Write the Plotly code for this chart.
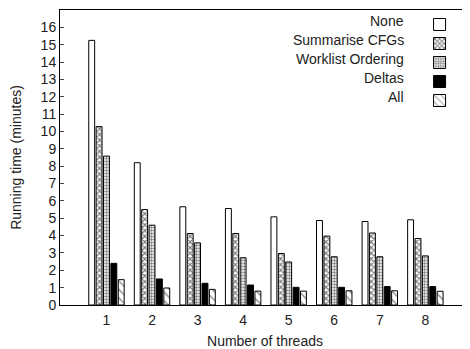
import plotly.graph_objects as go

threads = [1, 2, 3, 4, 5, 6, 7, 8]
series_names = ["None", "Summarise CFGs", "Worklist Ordering", "Deltas", "All"]
none_vals = [15.25, 8.2, 5.66, 5.56, 5.08, 4.87, 4.81, 4.91]
summarise_vals = [10.28, 5.5, 4.12, 4.12, 2.97, 3.97, 4.15, 3.83]
worklist_vals = [8.58, 4.6, 3.58, 2.72, 2.48, 2.78, 2.78, 2.83]
deltas_vals = [2.4, 1.5, 1.25, 1.15, 1.02, 1.02, 1.06, 1.06]
all_vals = [1.46, 0.98, 0.9, 0.8, 0.8, 0.82, 0.82, 0.79]
y_ticks = list(range(0, 18))

series_values = [none_vals, summarise_vals, worklist_vals, deltas_vals, all_vals]
styles = [
    dict(color="white", pattern=dict(shape="")),
    dict(color="white", pattern=dict(shape="x", size=4, solidity=0.5, fgcolor="black")),
    dict(color="white", pattern=dict(shape=".", size=3, solidity=0.5, fgcolor="black")),
    dict(color="black", pattern=dict(shape="")),
    dict(color="white", pattern=dict(shape="\\", size=6, solidity=0.2, fgcolor="black")),
]

fig = go.Figure()
for name, vals, st in zip(series_names, series_values, styles):
    fig.add_trace(go.Bar(
        x=threads, y=vals, name=" ",
        marker=dict(color=st["color"], line=dict(color="black", width=1), pattern=st["pattern"]),
    ))

font = dict(family="Liberation Sans, Arial, sans-serif", size=14, color="#222")

legend_y0 = 0.962
for i, name in enumerate(series_names):
    fig.add_annotation(
        text=name, xref="paper", yref="paper", x=0.845, y=legend_y0, yshift=-19 * i,
        xanchor="right", yanchor="middle", showarrow=False, font=font,
    )

fig.update_layout(
    width=462, height=341,
    margin=dict(l=52, r=0, t=2, b=44),
    paper_bgcolor="white", plot_bgcolor="white",
    barmode="group", bargap=0.19, bargroupgap=0.2,
    font=font,
    showlegend=True,
    legend=dict(x=0.877, y=1.0, xanchor="left", yanchor="top", bgcolor="rgba(0,0,0,0)",
                font=dict(size=10), itemwidth=30),
    xaxis=dict(range=[-0.02, 8.98], tickvals=threads, ticktext=[str(t) for t in threads],
               showgrid=False, zeroline=False, showline=True, linecolor="black", linewidth=1,
               mirror=True, ticks="", tickfont=dict(size=14), ticklabelstandoff=2,
               title=dict(text="Number of threads", font=dict(size=14), standoff=10)),
    yaxis=dict(range=[0, 17], tickvals=y_ticks, showgrid=False, zeroline=False,
               showline=True, linecolor="black", linewidth=1, ticks="inside", ticklen=4,
               tickfont=dict(size=14),
               title=dict(text="Running time (minutes)", font=dict(size=14), standoff=18)),
)

fig.write_html("out.html")
